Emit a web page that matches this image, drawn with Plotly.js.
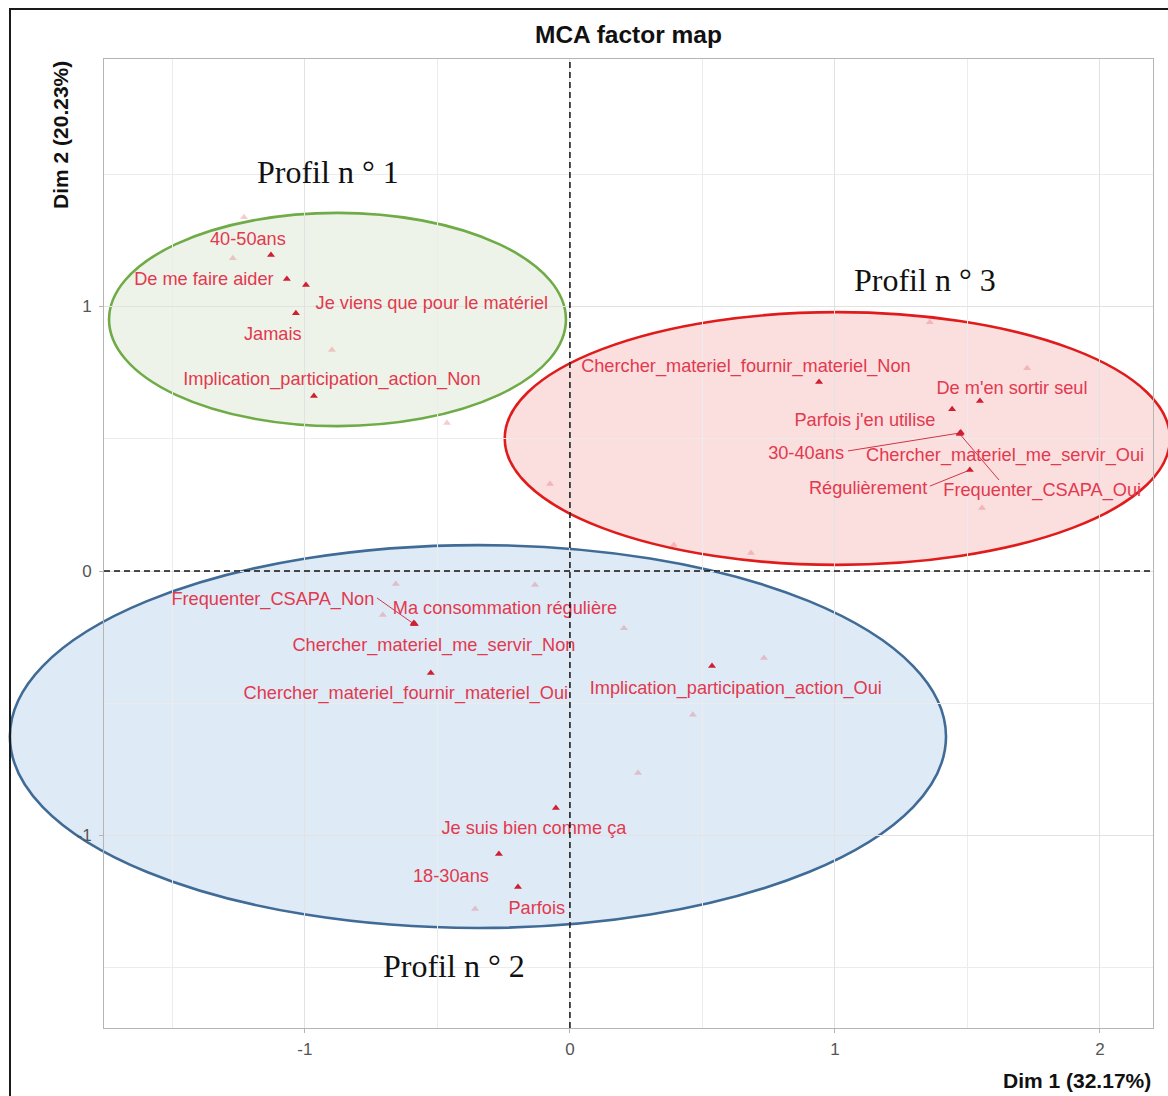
<!DOCTYPE html>
<html>
<head>
<meta charset="utf-8">
<script src="https://cdn.plot.ly/plotly-3.0.1.min.js"></script>
<style>
html,body{margin:0;padding:0;background:#fff;}
#chart{position:absolute;left:0;top:0;width:1168px;height:1096px;}
#frame{position:absolute;left:9px;top:8px;width:1159px;height:1088px;border-left:2px solid #1a1a1a;border-top:2px solid #1a1a1a;pointer-events:none;}
</style>
</head>
<body>
<div id="chart"></div>
<div id="frame"></div>
<script>
// ---- Category coordinates (Dim 1, Dim 2) ----
const catLabels = [
  "40-50ans", "De me faire aider", "Je viens que pour le matériel", "Jamais",
  "Implication_participation_action_Non", "Chercher_materiel_fournir_materiel_Non",
  "De m'en sortir seul", "Parfois j'en utilise", "30-40ans",
  "Chercher_materiel_me_servir_Oui", "Régulièrement", "Frequenter_CSAPA_Oui",
  "Frequenter_CSAPA_Non", "Ma consommation régulière", "Chercher_materiel_me_servir_Non",
  "Chercher_materiel_fournir_materiel_Oui", "Implication_participation_action_Oui",
  "Je suis bien comme ça", "18-30ans", "Parfois"
];
const catX = [-1.128, -1.068, -0.996, -1.034, -0.966, 0.940, 1.547, 1.442, 1.472,
  1.475, 1.509, 1.471, -0.589, -0.589, -0.585, -0.525, 0.536, -0.053, -0.268, -0.196];
const catY = [1.195, 1.104, 1.081, 0.975, 0.662, 0.715, 0.643, 0.612, 0.522,
  0.524, 0.382, 0.518, -0.200, -0.197, -0.200, -0.386, -0.359, -0.896, -1.070, -1.195];

// ---- Repelled label positions (text centres) ----
const labelX = [-1.215, -1.381, -0.521, -1.121, -0.898, 0.664, 1.668, 1.113, 0.891,
  1.642, 1.125, 1.782, -1.121, -0.245, -0.513, -0.619, 0.626, -0.136, -0.449, -0.125];
const labelY = [1.248, 1.100, 1.009, 0.892, 0.722, 0.771, 0.688, 0.567, 0.442,
  0.435, 0.310, 0.302, -0.110, -0.144, -0.287, -0.465, -0.446, -0.979, -1.157, -1.278];
// segment start (label side); null = no segment
const segFromX = [null, null, null, null, null, null, null, null, 1.049,
  null, 1.358, 1.619, -0.728, null, null, null, null, null, null, null];
const segFromY = [null, null, null, null, null, null, null, null, 0.454,
  null, 0.321, 0.344, -0.102, null, null, null, null, null, null, null];

// ---- Faint (unlabelled) categories ----
const faintX = [-1.230, -1.272, -0.898, -0.464, -0.075, 1.358, 1.725, 1.555, 0.392,
  0.683, -0.657, -0.132, -0.706, 0.204, 0.732, 0.464, 0.257, -0.358];
const faintY = [1.338, 1.183, 0.836, 0.560, 0.329, 0.941, 0.767, 0.238, 0.098,
  0.068, -0.049, -0.053, -0.166, -0.216, -0.329, -0.544, -0.764, -1.278];

// ---- Profile ellipses ----
const profilNames = ["Profil n ° 1", "Profil n ° 2", "Profil n ° 3"];
const ellCX = [-0.877, -0.347, 1.009];
const ellCY = [0.951, -0.626, 0.501];
const ellRX = [0.862, 1.766, 1.255];
const ellRY = [0.403, 0.724, 0.478];
const ellFill = ["#eef3e9", "#deeaf6", "#fbdede"];
const ellLine = ["#6fab47", "#3f6b96", "#e01b1b"];
const profilX = [-0.913, -0.438, 1.340];
const profilY = [1.508, -1.493, 1.100];

// ---- Axes ----
const xRange = [-1.758, 2.200];
const yRange = [-1.728, 1.936];
const xTicks = [-1, 0, 1, 2];
const xTickText = ["-1", "0", "1", "2"];
const yTicks = [-1, 0, 1];
const yTickText = ["-1", "0", "1"];
const xMinor = [-1.5, -0.5, 0.5, 1.5];
const yMinor = [-1.5, -0.5, 0.5, 1.5];
const xTitle = "Dim 1 (32.17%)";
const yTitle = "Dim 2 (20.23%)";
const mainTitle = "MCA factor map";

const SANS = "Liberation Sans, Arial, sans-serif";
const SERIF = "Liberation Serif, Times New Roman, serif";
const dx = v => (v - xRange[0]) / (xRange[1] - xRange[0]);
const dy = v => (v - yRange[0]) / (yRange[1] - yRange[0]);

const segX = [], segY = [];
for (let i = 0; i < catLabels.length; i++) {
  if (segFromX[i] !== null) {
    segX.push(segFromX[i], catX[i], null);
    segY.push(segFromY[i], catY[i], null);
  }
}

const traces = [
  {type: "scatter", mode: "markers", x: faintX, y: faintY, hoverinfo: "skip",
   marker: {symbol: "triangle-up", size: 7, color: "rgba(226,110,120,0.35)"}, cliponaxis: false},
  {type: "scatter", mode: "lines", x: segX, y: segY, hoverinfo: "skip",
   line: {color: "#d23446", width: 1}},
  {type: "scatter", mode: "markers", x: catX, y: catY, hoverinfo: "skip",
   marker: {symbol: "triangle-up", size: 7, color: "#cf1f33"}, cliponaxis: false},
  {type: "scatter", mode: "text", x: labelX, y: labelY, text: catLabels, hoverinfo: "skip",
   textposition: "middle center", cliponaxis: false,
   textfont: {family: SANS, size: 18.2, color: "#e2394e"}}
];

const shapes = [];
for (let i = 0; i < ellCX.length; i++) {
  shapes.push({type: "circle", xref: "x domain", yref: "y domain", layer: "below",
    x0: dx(ellCX[i] - ellRX[i]), x1: dx(ellCX[i] + ellRX[i]),
    y0: dy(ellCY[i] - ellRY[i]), y1: dy(ellCY[i] + ellRY[i]),
    fillcolor: ellFill[i], line: {color: ellLine[i], width: 2.6}});
}
shapes.push({type: "line", xref: "x", yref: "y domain", x0: 0, x1: 0, y0: 0, y1: 1,
  layer: "above", line: {color: "#111", width: 1.5, dash: "6px,4px"}});
shapes.push({type: "line", xref: "x domain", yref: "y", x0: 0, x1: 1, y0: 0, y1: 0,
  layer: "above", line: {color: "#111", width: 1.5, dash: "6px,4px"}});

const annotations = [];
for (let i = 0; i < profilNames.length; i++) {
  annotations.push({xref: "x", yref: "y", x: profilX[i], y: profilY[i], text: profilNames[i],
    showarrow: false, font: {family: SERIF, size: 32, color: "#111"}});
}
annotations.push({xref: "paper", yref: "paper", x: 0.5, xanchor: "center", y: 1.0248, yanchor: "middle",
  text: "<b>" + mainTitle + "</b>", showarrow: false, font: {family: SANS, size: 24.5, color: "#111"}});
annotations.push({xref: "paper", yref: "paper", x: 1, xanchor: "right", y: -0.0537, yanchor: "middle",
  text: "<b>" + xTitle + "</b>", showarrow: false, font: {family: SANS, size: 21, color: "#111"}});
annotations.push({xref: "paper", yref: "paper", x: -0.042, xanchor: "center", y: 1.0, yanchor: "top",
  textangle: -90, text: "<b>" + yTitle + "</b>", showarrow: false, font: {family: SANS, size: 21, color: "#111"}});

const axisCommon = {
  showgrid: true, gridcolor: "#e2e2e2", gridwidth: 1,
  zeroline: false, showline: true, mirror: true, linecolor: "#b5b5b5", linewidth: 1,
  ticks: "outside", ticklen: 4, tickcolor: "#b5b5b5",
  tickfont: {family: SANS, size: 17, color: "#555"}
};

const layout = {
  width: 1168, height: 1096,
  margin: {l: 104, r: 15, t: 59, b: 68},
  paper_bgcolor: "rgba(0,0,0,0)", plot_bgcolor: "#fff",
  showlegend: false, hovermode: false,
  xaxis: Object.assign({}, axisCommon, {range: xRange, tickmode: "array", tickvals: xTicks, ticktext: xTickText,
    ticklabelstandoff: 2,
    minor: {tickmode: "array", tickvals: xMinor, showgrid: true, gridcolor: "#ececec", ticks: ""}}),
  yaxis: Object.assign({}, axisCommon, {range: yRange, tickmode: "array", tickvals: yTicks, ticktext: yTickText,
    ticklabelstandoff: 4,
    minor: {tickmode: "array", tickvals: yMinor, showgrid: true, gridcolor: "#ececec", ticks: ""}}),
  shapes: shapes,
  annotations: annotations
};

Plotly.newPlot("chart", traces, layout, {staticPlot: true, displayModeBar: false});
</script>
</body>
</html>
